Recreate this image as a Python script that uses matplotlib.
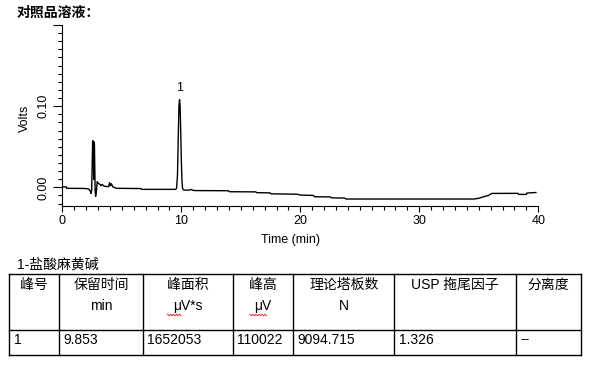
import matplotlib
matplotlib.use('Agg')
import matplotlib.pyplot as plt
from matplotlib.lines import Line2D
from matplotlib.ticker import MultipleLocator, FixedLocator
import numpy as np

plt.rcParams['font.family'] = ['Liberation Sans', 'Noto Sans CJK SC']

# %% 色谱数据
time_min = [0.0, 0.35, 0.37, 1.9, 2.2, 2.35, 2.42, 2.47, 2.55, 2.60, 2.64, 2.66, 2.70,
            2.76, 2.80, 2.86, 2.93, 3.05, 3.15, 3.25, 3.35, 3.50, 3.75, 3.90, 3.97,
            4.05, 4.12, 4.25, 4.55, 6.60, 6.65, 9.50, 9.60, 9.68, 9.75, 9.80, 9.853,
            9.90, 9.95, 10.00, 10.05, 10.10, 10.20, 10.50, 10.75, 10.84, 10.95, 11.10,
            13.95, 14.05, 16.25, 16.35, 17.45, 17.55, 19.80, 19.95, 21.10, 21.20,
            22.50, 22.65, 23.70, 23.85, 34.60, 35.00, 35.40, 35.80, 36.10, 38.30,
            38.35, 39.00, 39.05, 39.80]
volts = [0.0005, 0.0005, -0.0012, -0.0014, -0.0020, -0.0045, -0.0075, -0.0030, 0.0575,
         0.0570, 0.0100, 0.0560, 0.0540, -0.0050, -0.0110, -0.0060, 0.0070, 0.0045,
         0.0040, 0.0020, 0.0035, 0.0015, 0.0010, 0.0008, 0.0058, 0.0020, 0.0045,
         0.0005, -0.0012, -0.0015, -0.0025, -0.0025, -0.0015, 0.0150, 0.0650, 0.1000,
         0.1080, 0.1000, 0.0700, 0.0350, 0.0100, -0.0010, -0.0033, -0.0035, -0.0032,
         -0.0025, -0.0035, -0.0040, -0.0042, -0.0054, -0.0056, -0.0066, -0.0068,
         -0.0080, -0.0085, -0.0095, -0.0100, -0.0116, -0.0118, -0.0130, -0.0132,
         -0.0144, -0.0144, -0.0135, -0.0116, -0.0100, -0.0075, -0.0074, -0.0087,
         -0.0087, -0.0070, -0.0064]
peak_label = '1'
peak_rt = 9.853
peak_top = 0.108

# %% 结果表
compound = '1-盐酸麻黄碱'
headers = ['峰号', '保留时间', '峰面积', '峰高', '理论塔板数', 'USP 拖尾因子', '分离度']
units = ['', 'min', 'μV*s', 'μV', 'N', '', '']
row1 = ['1', '9.853', '1652053', '110022', '9094.715', '1.326', '--']

W, H = 591, 365
def px(x, y):
    return x / W, 1 - y / H

fig = plt.figure(figsize=(W / 100, H / 100), dpi=100)
ax = fig.add_axes([62.3 / W, 1 - 206 / H, (538.3 - 62.3) / W, (206 - 25) / H])
ax.plot(time_min, volts, color='black', linewidth=1.0)
ax.set_xlim(0, 40)
ax.set_ylim(-0.023, 0.2)
ax.spines['top'].set_visible(False)
ax.spines['right'].set_visible(False)
ax.spines['left'].set_linewidth(0.8)
ax.spines['bottom'].set_linewidth(0.8)

ax.xaxis.set_major_locator(MultipleLocator(10))
ax.xaxis.set_minor_locator(MultipleLocator(1))
ax.yaxis.set_major_locator(FixedLocator([0.0, 0.1, 0.2]))
ax.yaxis.set_minor_locator(MultipleLocator(0.01))
ax.set_yticklabels(['0.00', '0.10', ''])
ax.tick_params(axis='both', which='major', labelsize=9, width=0.8, color='black')
ax.tick_params(axis='x', which='major', length=4.5, pad=2)
ax.tick_params(axis='y', which='major', length=6.5, pad=3)
ax.tick_params(axis='both', which='minor', length=2.8, width=0.8)
for lab in ax.get_yticklabels():
    lab.set_rotation(90)
    lab.set_va('center')

ax.set_xlabel('Time (min)', fontsize=9)
ax.xaxis.label.set_va('center')
ax.xaxis.set_label_coords((291 - 62.3) / 476, (206 - 240) / 181)
ax.set_ylabel('Volts', fontsize=9)
ax.yaxis.label.set_va('center')
ax.yaxis.set_label_coords((25 - 62.3) / 476, (206 - 118) / 181)

ax.annotate(peak_label, (peak_rt, peak_top), xytext=(0, 4), textcoords='offset points',
            ha='center', va='bottom', fontsize=9)

fig.text(*px(17, 13), '对照品溶液：', fontsize=10, fontweight='bold', va='center', ha='left')

# 表格
fig.text(*px(17, 265), compound, fontsize=10, va='center', ha='left')
cols = [9.3, 59.3, 142.7, 232.7, 293.3, 394.3, 515.7, 581]
top, mid, bot = 274, 329.5, 355
def hline(y):
    fig.add_artist(Line2D([cols[0] / W, cols[-1] / W], [1 - y / H, 1 - y / H],
                          color='black', linewidth=1.0))
for y in (top, mid, bot):
    hline(y)
for x in cols:
    fig.add_artist(Line2D([x / W, x / W], [1 - top / H, 1 - bot / H], color='black', linewidth=1.0))

for i in range(len(headers)):
    cx = (cols[i] + cols[i + 1]) / 2
    fig.text(*px(cx, 284.5), headers[i], fontsize=10, ha='center', va='center')
    if units[i]:
        fig.text(*px(cx, 306), units[i], fontsize=10, ha='center', va='center')
    fig.text(*px(cols[i] + 4.5, 339.5), row1[i], fontsize=10, ha='left', va='center')

# 拼写检查红色波浪线
for x0, x1 in [(167.5, 182), (250, 267)]:
    xs = np.arange(x0, x1 + 0.1, 1.5)
    ys = 315 + np.where(np.arange(len(xs)) % 2 == 0, -0.8, 0.8)
    fig.add_artist(Line2D(xs / W, 1 - ys / H, color='#e03030', linewidth=0.7))

fig.savefig('out.png', dpi=100)
